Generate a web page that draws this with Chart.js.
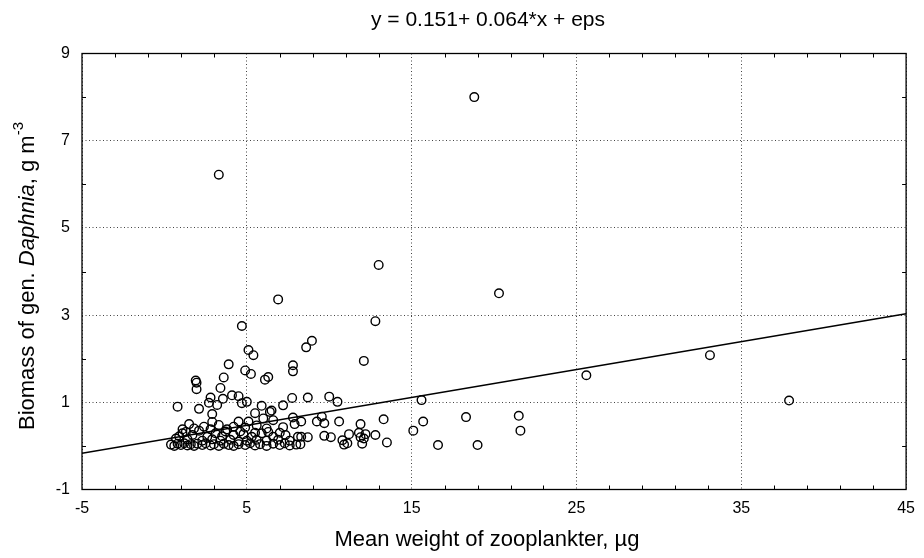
<!DOCTYPE html>
<html><head><meta charset="utf-8">
<script src="https://cdn.jsdelivr.net/npm/chart.js@4.4.1/dist/chart.umd.min.js"></script>
<style>html,body{margin:0;padding:0;background:#fff;}#wrap{width:924px;height:558px;}</style>
</head><body><div id="wrap"><canvas id="c" width="924" height="558"></canvas></div>
<script>
// ---- data ----
const weightX = [
  // scattered / high values
  18.8, 3.3, 13.0, 20.3, 6.9, 12.8, 4.7, 8.95, 8.6, 5.1, 5.4, 12.1, 3.9, 7.8, 4.9, 7.8, 5.25, 6.1, 6.3, 1.9,
  1.95, 1.95, 3.6, 3.4, 33.1, 25.6, 37.9, 15.6, 15.7, 15.1, 16.6, 18.3, 19.0, 21.5, 21.6,
  // 0.6 - 1.2
  0.8, 2.1, 2.8, 2.7, 3.2, 2.9, 3.55, 4.1, 4.5, 4.7, 5.0, 5.9, 6.5, 7.2, 7.75, 8.7, 10.0, 10.5, 5.5, 6.4, 6.0, 7.8, 9.55, 13.3,
  // 0.35 - 0.6
  1.5, 2.4, 3.3, 4.2, 4.5, 5.1, 6.6, 7.2, 7.9, 8.3, 9.25, 9.7, 10.6, 11.9, 1.8, 2.9, 3.8, 4.9, 5.6, 6.2, 1.1,
  // 0.1 - 0.35
  0.7, 1.1, 1.7, 2.1, 2.6, 3.1, 3.7, 4.2, 4.8, 5.3, 5.9, 6.6, 7.35, 8.1, 8.3, 8.7, 9.7, 10.1, 10.8, 11.1,
  11.2, 11.8, 11.9, 12.2, 12.1, 12.8, 13.5, 8.25, 0.9, 1.4, 2.3, 2.9, 3.4, 4.0, 4.5, 5.0, 5.6, 6.2, 6.9, 7.6,
  1.3, 2.8, 3.5, 4.6, 5.5, 6.3, 7.0,
  // near zero
  0.4, 0.6, 0.8, 1.0, 1.2, 1.4, 1.6, 1.8, 2.0, 2.3, 2.5, 2.8, 3.0, 3.3, 3.6, 3.9, 4.2, 4.5, 4.9, 5.2,
  5.5, 5.8, 6.2, 6.6, 7.0, 7.3, 7.6, 8.0, 10.9, 12.0
];
const biomassY = [
  8.0, 6.22, 4.15, 3.5, 3.36, 2.86, 2.75, 2.41, 2.26, 2.2, 2.08, 1.95, 1.87, 1.85, 1.73, 1.71, 1.65, 1.52, 1.58, 1.5,
  1.45, 1.3, 1.57, 1.33, 2.08, 1.62, 1.04, 1.05, 0.56, 0.35, 0.02, 0.66, 0.02, 0.69, 0.35,
  0.9, 0.85, 1.11, 0.99, 0.94, 0.73, 1.08, 1.16, 1.14, 0.98, 1.01, 0.92, 0.81, 0.93, 1.10, 1.11, 1.13, 1.01, 0.75, 0.78, 0.63, 0.65, 0.67, 0.61,
  0.50, 0.44, 0.48, 0.44, 0.56, 0.56, 0.59, 0.43, 0.50, 0.56, 0.56, 0.52, 0.56, 0.50, 0.40, 0.55, 0.38, 0.42, 0.47, 0.40, 0.38,
  0.17, 0.29, 0.25, 0.35, 0.21, 0.29, 0.33, 0.25, 0.27, 0.21, 0.29, 0.21, 0.25, 0.21, 0.21, 0.20, 0.23, 0.20, 0.13, 0.06,
  0.27, 0.30, 0.20, 0.27, 0.17, 0.25, 0.08, 0.04, 0.22, 0.15, 0.12, 0.15, 0.12, 0.14, 0.10, 0.12, 0.14, 0.12, 0.14, 0.12,
  0.32, 0.38, 0.22, 0.33, 0.30, 0.32, 0.30,
  0.03, 0.0, 0.05, 0.02, 0.06, 0.01, 0.04, 0.0, 0.05, 0.02, 0.06, 0.01, 0.04, 0.0, 0.05, 0.02, 0.0, 0.04, 0.02, 0.06,
  0.01, 0.04, 0.0, 0.05, 0.02, 0.06, 0.01, 0.03, 0.03, 0.05
];
const fitX = [-5, 45];
const fitY = [-0.169, 3.031];
const xTickValues = [-5, 5, 15, 25, 35, 45];
const yTickValues = [-1, 1, 3, 5, 7, 9];
const chartTitle = 'y = 0.151+ 0.064*x + eps';
const xAxisTitle = 'Mean weight of zooplankter, µg';
const yTitleParts = ['Biomass of gen. ', 'Daphnia', ', g m', '-3'];

const FONT = "'Liberation Sans', Arial, Helvetica, sans-serif";

const scatterPoints = weightX.map((x, i) => ({x: x, y: biomassY[i]}));
const fitPoints = fitX.map((x, i) => ({x: x, y: fitY[i]}));

const framePlugin = {
  id: 'frame',
  afterDatasetsDraw(chart) {
    const {ctx, chartArea: a, scales: {x, y}} = chart;
    ctx.save();
    ctx.strokeStyle = '#000';
    ctx.lineWidth = 1.3;
    ctx.strokeRect(a.left, a.top, a.right - a.left, a.bottom - a.top);
    ctx.lineWidth = 1;
    for (let v = -3; v < 45; v += 2) {
      if (xTickValues.includes(v)) continue;
      const px = Math.round(x.getPixelForValue(v)) + 0.5;
      ctx.beginPath();
      ctx.moveTo(px, a.top); ctx.lineTo(px, a.top + 4);
      ctx.moveTo(px, a.bottom); ctx.lineTo(px, a.bottom - 4);
      ctx.stroke();
    }
    for (let v = 0; v < 9; v += 2) {
      const py = Math.round(y.getPixelForValue(v)) + 0.5;
      ctx.beginPath();
      ctx.moveTo(a.left, py); ctx.lineTo(a.left + 4, py);
      ctx.moveTo(a.right, py); ctx.lineTo(a.right - 4, py);
      ctx.stroke();
    }
    ctx.restore();
  },
  afterDraw(chart) {
    const {ctx} = chart;
    ctx.save();
    ctx.fillStyle = '#000';
    // main title
    ctx.font = `normal 21px ${FONT}`;
    ctx.textAlign = 'center';
    ctx.textBaseline = 'middle';
    ctx.fillText(chartTitle, 488, 20);
    // x axis title
    ctx.font = `normal 22px ${FONT}`;
    ctx.fillText(xAxisTitle, 487, 540);
    // y axis title with italic genus and superscript
    const cy = 276, cx = 28;
    const fs = 22, sfs = 15;
    const fonts = [
      `normal ${fs}px ${FONT}`, `italic ${fs}px ${FONT}`, `normal ${fs}px ${FONT}`, `normal ${sfs}px ${FONT}`
    ];
    const widths = yTitleParts.map((t, i) => { ctx.font = fonts[i]; return ctx.measureText(t).width; });
    const total = widths.reduce((s, w) => s + w, 0);
    ctx.translate(cx, cy);
    ctx.rotate(-Math.PI / 2);
    ctx.textAlign = 'left';
    let pos = -total / 2;
    yTitleParts.forEach((t, i) => {
      ctx.font = fonts[i];
      ctx.fillText(t, pos, i === 3 ? -9 : 0);
      pos += widths[i];
    });
    ctx.restore();
  }
};

new Chart(document.getElementById('c'), {
  data: {
    datasets: [
      {
        type: 'scatter',
        data: scatterPoints,
        pointStyle: 'circle',
        pointRadius: 4.3,
        pointBorderWidth: 1.4,
        borderColor: '#000',
        backgroundColor: 'rgba(0,0,0,0)',
        pointHoverRadius: 4.3,
        order: 1
      },
      {
        type: 'line',
        data: fitPoints,
        borderColor: '#000',
        borderWidth: 1.4,
        pointRadius: 0,
        fill: false,
        tension: 0,
        order: 2
      }
    ]
  },
  options: {
    responsive: false,
    animation: false,
    devicePixelRatio: 1,
    layout: {padding: {left: 0, right: 13, top: 53.5, bottom: 0}},
    plugins: {
      legend: {display: false},
      tooltip: {enabled: false},
      title: {display: false}
    },
    scales: {
      x: {
        type: 'linear',
        min: -5, max: 45,
        afterFit(s) { s.height = 68.5; },
        afterBuildTicks(s) { s.ticks = xTickValues.map(v => ({value: v})); },
        ticks: {stepSize: 10, color: '#000', font: {family: FONT, size: 16}, padding: 9, maxRotation: 0},
        grid: {color: '#444', lineWidth: 1, drawTicks: false},
        border: {display: false, dash: [1, 2.5]}
      },
      y: {
        type: 'linear',
        min: -1, max: 9,
        afterFit(s) { s.width = 82; },
        afterBuildTicks(s) { s.ticks = yTickValues.map(v => ({value: v})); },
        ticks: {stepSize: 2, color: '#000', font: {family: FONT, size: 16}, padding: 12},
        grid: {color: '#444', lineWidth: 1, drawTicks: false},
        border: {display: false, dash: [1, 2.5]}
      }
    }
  },
  plugins: [framePlugin]
});
</script>
</body></html>
